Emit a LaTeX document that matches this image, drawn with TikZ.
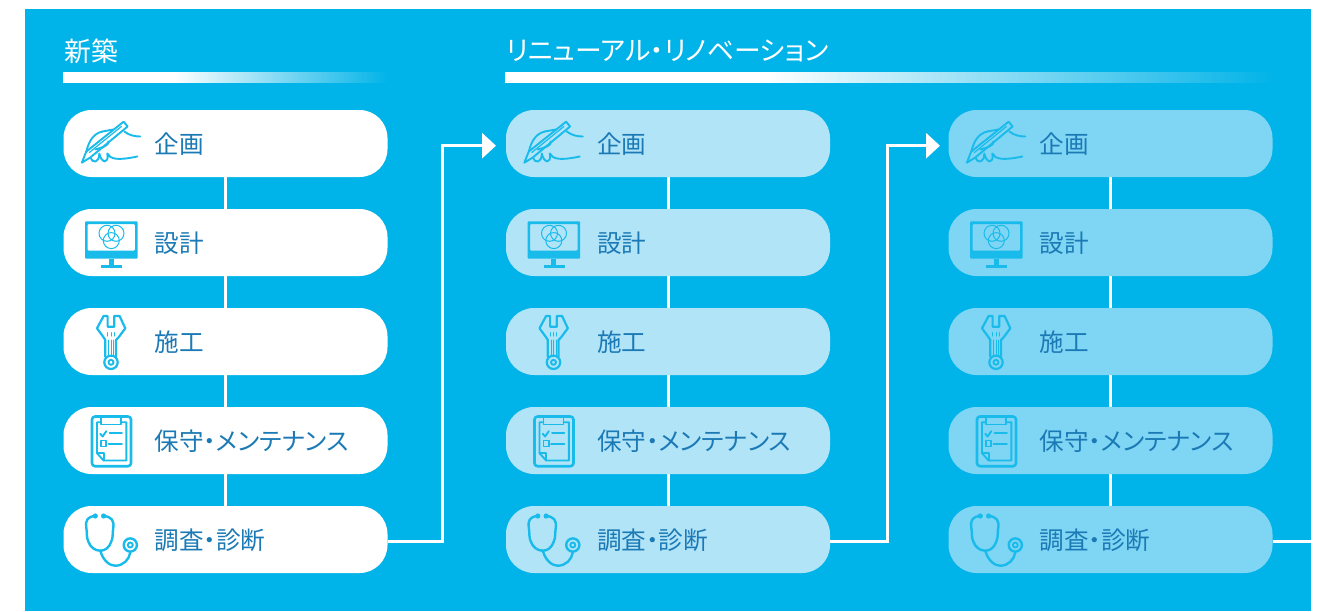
\documentclass[tikz,border=0pt]{standalone}
\usepackage{fontspec}
\usepackage{tikz}
\usetikzlibrary{arrows.meta}
\newfontfamily\jpfont[RawFeature=+palt]{Noto Sans CJK JP}

\definecolor{panel}{HTML}{00B3E8}
\definecolor{stagetext}{HTML}{1B7AB5}
\definecolor{iconline}{HTML}{19BBEB}
\definecolor{softfill}{HTML}{B2E4F8}
\definecolor{midfill}{HTML}{7FD5F4}

\pgfdeclarehorizontalshading{barshade}{100bp}{color(0bp)=(white); color(42bp)=(white); color(75bp)=(panel); color(100bp)=(panel)}

\tikzset{
  stage/.style={rounded corners=28pt, minimum height=67pt, text width=324pt, inner xsep=0pt, inner ysep=0pt,
    text height=24pt, text depth=4pt,
    align=left, text=stagetext, font=\jpfont\fontsize{24.6}{28}\selectfont,
    execute at begin node={\hspace*{91pt}}},
  heading/.style={anchor=west, inner sep=0pt, text=white, font=\jpfont\fontsize{26.8}{30}\selectfont},
  bar/.style={anchor=west, inner sep=0pt, minimum height=10pt, shading=barshade},
  link/.style={draw=white, line width=3pt},
  flow/.style={draw=white, line width=3pt, -{Triangle[length=14pt,width=25pt]}, shorten >=9pt},
  ic/.style={draw=iconline, line width=1.9pt, line cap=round, line join=round},
  penicon/.pic={
    \draw[ic] (18.5,19.2) -- (23,8) -- (60.3,-21.8) -- (64.3,-17) -- (27,14) -- cycle;
    \draw[ic, line width=1.2pt] (26,9) -- (58,-17);
    \draw[ic] (39,-12) .. controls (31,-10) and (26,-4) .. (23,8);
    \draw[ic] (39,-12) -- (50,-14);
    \draw[ic] (61,-12) .. controls (66,-8) and (72,-7) .. (77,-7);
    \draw[ic] (45,-2) .. controls (46,2) and (39,4) .. (32,6);
    \draw[ic] (27,14) .. controls (29,20) and (36,20) .. (36,10) .. controls (38,20) and (46,21) .. (44,10)
      .. controls (47,16) and (55,17) .. (74,13);
  },
  screenicon/.pic={
    \fill[iconline, rounded corners=1pt, even odd rule] (21.7,-21.2) rectangle (74.3,16.2) (24.3,-18.5) rectangle (71.7,8.2);
    \fill[iconline] (45.3,16) rectangle (50.3,23);
    \fill[iconline] (37.7,22.5) rectangle (58.7,25.2);
    \draw[ic, line width=1pt] (43.7,-9.2) circle[radius=8];
    \draw[ic, line width=1pt] (52.7,-9.2) circle[radius=8];
    \draw[ic, line width=1pt] (48,-1.9) circle[radius=8];
  },
  wrenchicon/.pic={
    \draw[ic, line width=2.2pt] (42,15.2) -- (42,-1.5) -- (40.3,-4.2) -- (33.7,-13.2) -- (40.3,-25.5) -- (44.3,-25.5) -- (44.3,-14.8)
      -- (51,-14.8) -- (51,-25.5) -- (56.3,-25.5) -- (62,-13.2) -- (55.3,-4.2) -- (52.7,-1.5) -- (52.7,15.2);
    \draw[ic, line width=2.2pt] (47.7,20.8) circle[radius=6.7];
    \draw[ic] (47.7,20.8) circle[radius=2.5];
    \draw[ic, line width=1pt] (45.3,-1.5) -- (45.3,13.5) (47.7,-1.5) -- (47.7,13.5) (50.3,-1.5) -- (50.3,13.5);
    \draw[ic, line width=1pt] (44.5,-8.8) -- (44.5,-5.5) (47.7,-8.8) -- (47.7,-5.5) (50.8,-8.8) -- (50.8,-5.5);
  },
  clipicon/.pic={
    \draw[ic, line width=2.6pt, rounded corners=3pt] (28.7,-24) rectangle (67.7,25.7);
    \draw[ic] (37.7,-18.3) -- (33.7,-18.3) -- (33.7,12.7) -- (40.3,20) -- (63,20) -- (63,-18.3) -- (57.7,-18.3);
    \draw[ic] (33.7,12.7) -- (40.3,12.7) -- (40.3,20);
    \draw[ic] (37.7,-23.3) -- (37.7,-16) -- (57.7,-16) -- (57.7,-23.3);
    \draw[ic] (37,-6.7) -- (39.3,-4) -- (43,-9.3);
    \draw[ic] (46.3,-7.3) -- (58.7,-7.3);
    \draw[ic] (37.7,0) rectangle (43,6);
    \draw[ic] (45.3,3.3) -- (58.7,3.3);
  },
  scopeicon/.pic={
    \draw[ic, line width=2.4pt] (32,-23.5) .. controls (24,-23) and (22,-19) .. (23,-12) .. controls (24,-6) and (23,-2) .. (25,2)
      .. controls (27,8) and (32,11.2) .. (37,11.2) .. controls (42,11.2) and (46,8) .. (48,2)
      .. controls (50,-2) and (49,-6) .. (50,-12) .. controls (51,-19) and (48,-23) .. (40.3,-23.5);
    \draw[ic, line width=2.4pt] (37,11.2) .. controls (40,22) and (47,26.2) .. (52,26.2) .. controls (60,26.2) and (66,20) .. (67,12.8);
    \draw[ic, line width=2.4pt] (67,5.5) circle[radius=6.6];
    \draw[ic] (67,5.5) circle[radius=2.5];
    \fill[iconline] (32,-23.5) circle[radius=2.6];
    \fill[iconline] (40.3,-23.5) circle[radius=2.6];
  }
}

\begin{document}
\begin{tikzpicture}[x=1pt,y=-1pt]
\useasboundingbox (0,0) rectangle (1326,611);
\node[fill=panel, anchor=north west, minimum width=1286pt, minimum height=602pt, inner sep=0pt] (back) at (25,9) {};

% headings
\node[heading] (title1) at (64,51) {新築};
\node[heading] (title2) at (506,51) {リニューアル・リノベーション};
\node[bar, minimum width=325pt] (bar1) at (63,77) {};
\node[bar, minimum width=770pt] (bar2) at (505,77) {};

% first column
\node[stage, fill=white] (a1) at (225.5,143.5) {企画};
\node[stage, fill=white] (a2) at (225.5,242.5) {設計};
\node[stage, fill=white] (a3) at (225.5,341.5) {施工};
\node[stage, fill=white] (a4) at (225.5,440.5) {保守・メンテナンス};
\node[stage, fill=white] (a5) at (225.5,539.5) {調査・診断};

% second column
\node[stage, fill=softfill] (b1) at (668,143.5) {企画};
\node[stage, fill=softfill] (b2) at (668,242.5) {設計};
\node[stage, fill=softfill] (b3) at (668,341.5) {施工};
\node[stage, fill=softfill] (b4) at (668,440.5) {保守・メンテナンス};
\node[stage, fill=softfill] (b5) at (668,539.5) {調査・診断};

% third column
\node[stage, fill=midfill] (c1) at (1110.5,143.5) {企画};
\node[stage, fill=midfill] (c2) at (1110.5,242.5) {設計};
\node[stage, fill=midfill] (c3) at (1110.5,341.5) {施工};
\node[stage, fill=midfill] (c4) at (1110.5,440.5) {保守・メンテナンス};
\node[stage, fill=midfill] (c5) at (1110.5,539.5) {調査・診断};

\coordinate (out) at (1311,541);
\coordinate (in1) at (505,145.7);
\coordinate (in2) at (949,145.7);
\coordinate (turn1) at (442.5,541);
\coordinate (turn2) at (887,541);

\draw[link] (a1) -- (a2);
\draw[link] (a2) -- (a3);
\draw[link] (a3) -- (a4);
\draw[link] (a4) -- (a5);

\draw[link] (b1) -- (b2);
\draw[link] (b2) -- (b3);
\draw[link] (b3) -- (b4);
\draw[link] (b4) -- (b5);

\draw[link] (c1) -- (c2);
\draw[link] (c2) -- (c3);
\draw[link] (c3) -- (c4);
\draw[link] (c4) -- (c5);

\draw[flow] ([yshift=-1.5pt]a5.east) -- (turn1) |- (in1);
\draw[flow] ([yshift=-1.5pt]b5.east) -- (turn2) |- (in2);
\draw[link] ([yshift=-1.5pt]c5.east) -- (out);

% icons
\pic at (a1.west) {penicon};
\pic at (a2.west) {screenicon};
\pic at (a3.west) {wrenchicon};
\pic at (a4.west) {clipicon};
\pic at (a5.west) {scopeicon};

\pic at (b1.west) {penicon};
\pic at (b2.west) {screenicon};
\pic at (b3.west) {wrenchicon};
\pic at (b4.west) {clipicon};
\pic at (b5.west) {scopeicon};

\pic at (c1.west) {penicon};
\pic at (c2.west) {screenicon};
\pic at (c3.west) {wrenchicon};
\pic at (c4.west) {clipicon};
\pic at (c5.west) {scopeicon};
\end{tikzpicture}
\end{document}
